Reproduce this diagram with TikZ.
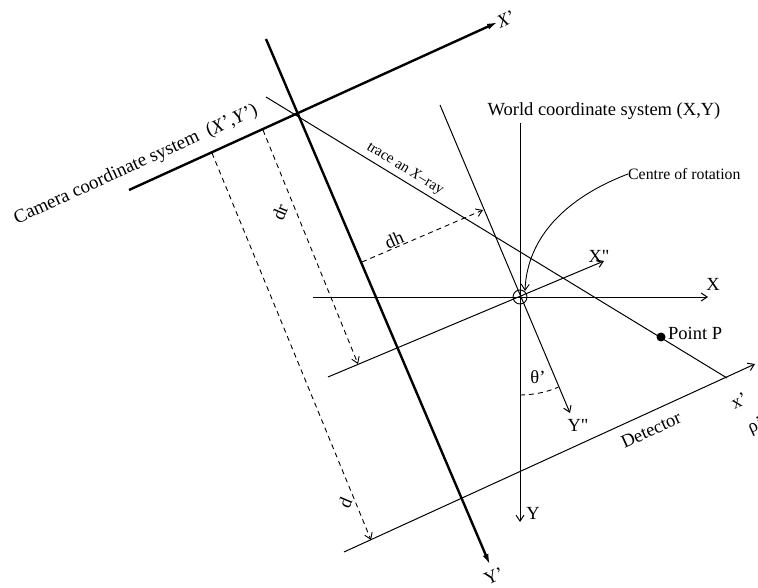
\documentclass[tikz,border=0pt]{standalone}
\usepackage{fontspec}
\setmainfont{Liberation Serif}[Ligatures=TeXOff]
\usetikzlibrary{arrows.meta}
\begin{document}
\begin{tikzpicture}[x=1pt,y=-1pt,
  thinline/.style={line width=1pt},
  thickaxis/.style={line width=2.4pt, -{Latex[length=11pt,width=6pt]}},
  thinaxis/.style={line width=1pt, -{Straight Barb[length=6pt,width=8pt]}},
  dimline/.style={line width=0.9pt, dash pattern=on 5pt off 4pt, -{Straight Barb[length=6pt,width=8pt]}},
  lab/.style={inner sep=0pt, font=\fontsize{18.5}{18.5}\selectfont},
  smalllab/.style={inner sep=0pt, font=\fontsize{15}{15}\selectfont}]
\useasboundingbox (0,0) rectangle (758,588);
\fill[white] (0,0) rectangle (758,588);

% coordinates
\coordinate (yc0) at (266,39);   \coordinate (yc1) at (490,565);
\coordinate (xc0) at (129,190);  \coordinate (xc1) at (498,22);
\coordinate (O) at (520,297);
\coordinate (xw0) at (313,297);  \coordinate (xw1) at (708,297);
\coordinate (yw0) at (520,123);  \coordinate (yw1) at (520,522);
\coordinate (xr0) at (328,377);  \coordinate (xr1) at (604,261);
\coordinate (yr0) at (440,105);  \coordinate (yr1) at (570,413);
\coordinate (ray0) at (266,97);  \coordinate (ray1) at (727,378);
\coordinate (det0) at (344,552); \coordinate (det1) at (755,364);
\coordinate (dr0) at (263,130);  \coordinate (dr1) at (358,364);
\coordinate (d0) at (212,153);   \coordinate (d1) at (371,540);
\coordinate (dh0) at (362,262);  \coordinate (dh1) at (483,210);
\coordinate (cr1) at (525,291);

% camera axes
\draw[thickaxis] (yc0) -- (yc1);
\draw[thickaxis] (xc0) -- (xc1);

% world axes
\draw[thinaxis] (xw0) -- (xw1);
\draw[thinaxis] (yw0) -- (yw1);
\node[draw, circle, line width=0.9pt, minimum size=14pt, inner sep=0pt] (orig) at (O) {};

% rotated axes
\draw[thinaxis] (xr0) -- (xr1);
\draw[thinaxis] (yr0) -- (yr1);

% x-ray and detector
\draw[thinline] (ray0) -- (ray1);
\draw[thinaxis] (det0) -- (det1);

% dimension lines
\draw[dimline] (dr0) -- (dr1);
\draw[dimline] (d0) -- (d1);
\draw[dimline] (dh0) -- (dh1);

% angle arc
\draw[line width=0.9pt, dash pattern=on 5pt off 4pt] (520,395) arc[start angle=90, end angle=67, radius=98];

% point P
\node[circle, fill=black, minimum size=9pt, inner sep=0pt] (P) at (661,337) {};
\node[lab, anchor=west] (Plab) at (668,333) {Point P};

% labels
\node[lab] (worldlab) at (604,111) {World coordinate system (X,Y)};
\node[lab, rotate=24.5, font=\fontsize{19}{19}\selectfont] (camlab) at (136,165) {Camera coordinate system\ \ (\textit{X}’,\textit{Y}’)};
\node[smalllab, rotate=-31.4] (raylab) at (405,169) {trace an \textit{X}–ray};
\node[font=\fontsize{15.8}{15.8}\selectfont, inner sep=0pt, anchor=west] (crlab) at (628,174) {Centre of rotation};
\draw[line width=0.9pt, -{Straight Barb[length=6pt,width=8pt]}] (crlab.west) .. controls (565,198) and (527,238) .. (cr1);

\node[lab] (Xlab) at (713,284) {X};
\node[lab] (Ylab) at (533,513) {Y};
\node[lab] (Xpplab) at (599,256) {X"};
\node[lab] (Ypplab) at (578,425) {Y"};
\node[lab] (thlab) at (538,377) {θ’};
\node[lab, rotate=24.5] (Xplab) at (506,19) {\textit{X}’};
\node[lab, rotate=24.5] (Yplab) at (494,576) {Y’};
\node[lab, rotate=24.6] (detlab) at (651,430) {Detector};
\node[lab, rotate=24.6] (xplab) at (739,401) {x’};
\node[lab, rotate=24.6, anchor=west] (rholab) at (749,430) {ρ’};
\node[lab, rotate=67] (drlab) at (280,212) {dr};
\node[lab, rotate=67] (dlab) at (345,503) {d};
\node[lab, rotate=23.3] (dhlab) at (394,240) {dh};
\end{tikzpicture}
\end{document}
